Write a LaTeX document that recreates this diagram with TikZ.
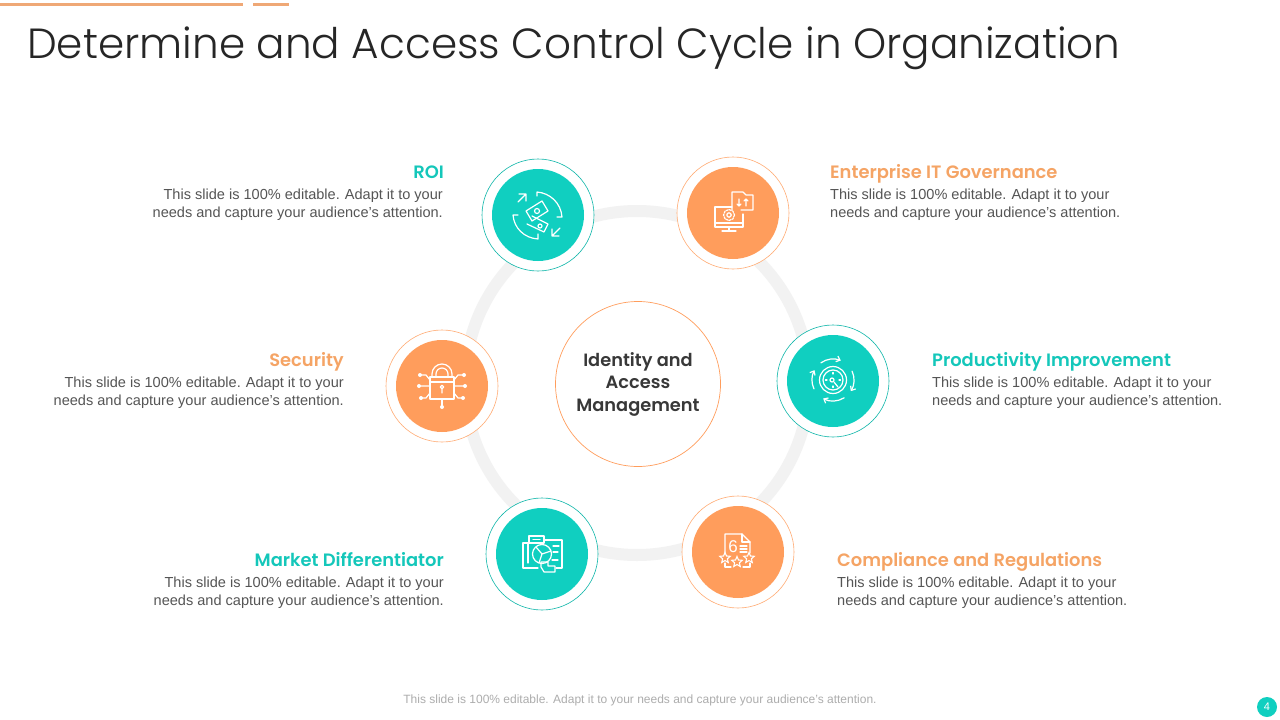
\documentclass[tikz,border=0pt]{standalone}
\usepackage{fontspec}
\setmainfont{Liberation Sans}
\newfontfamily\titlefont[UprightFont={* Light}]{Poppins}
\newfontfamily\headfont[UprightFont={* SemiBold}]{Poppins}
\usetikzlibrary{shapes.geometric,arrows.meta}
\definecolor{tealc}{HTML}{10CFC0}
\definecolor{orangec}{HTML}{FF9D5C}
\definecolor{headteal}{HTML}{14C7BA}
\definecolor{headorange}{HTML}{F5A465}
\definecolor{bar}{HTML}{EFA876}
\definecolor{ringc}{HTML}{F2F2F2}
\definecolor{bodyc}{HTML}{555555}
\newcommand{\bodytext}{This slide is 100\% editable.\ \hspace{1pt}Adapt it to your\\needs and capture your audience’s attention.}
\tikzset{
  x=1pt,y=-1pt,
  ringnode/.style={circle,draw=ringc,line width=12pt,minimum size=344pt,inner sep=0pt},
  outerteal/.style={circle,draw=tealc!88!black,fill=white,line width=.6pt,minimum size=112pt,inner sep=0pt},
  outerorange/.style={circle,draw=orangec!85,fill=white,line width=.6pt,minimum size=112pt,inner sep=0pt},
  discteal/.style={circle,fill=tealc,minimum size=92pt,inner sep=0pt},
  discorange/.style={circle,fill=orangec,minimum size=92pt,inner sep=0pt},
  hub/.style={circle,draw=orangec,fill=white,line width=.7pt,minimum size=165pt,inner sep=0pt,align=center,font=\headfont\fontsize{17.8}{22.5}\selectfont,text=black!78},
  headl/.style={anchor=base east,inner sep=0pt,font=\headfont\fontsize{17.9}{20}\selectfont},
  headr/.style={anchor=base west,inner sep=0pt,font=\headfont\fontsize{17.9}{20}\selectfont},
  bodyl/.style={anchor=east,inner sep=0pt,align=right,text=bodyc,font=\fontsize{14.55}{18}\selectfont},
  bodyr/.style={anchor=west,inner sep=0pt,align=left,text=bodyc,font=\fontsize{14.55}{18}\selectfont},
  ico/.style={draw=white,line width=1.2pt,line cap=round,line join=round},
  icostar/.style={star,star points=5,star point ratio=2.2,draw=white,fill=orangec,line width=1.1pt,minimum size=11pt,inner sep=0pt},
}
\begin{document}
\begin{tikzpicture}
\useasboundingbox (0,0) rectangle (1280,720);
\fill[white] (0,0) rectangle (1280,720);
\fill[bar] (0,3) rectangle (243,6);
\fill[bar] (253,3) rectangle (289,6);
\node[anchor=base west,inner sep=0pt,text=black!85,font=\titlefont\fontsize{42.15}{50}\selectfont] (title) at (27,58) {Determine and Access Control Cycle in Organization};

\node[ringnode] (ring) at (637,383) {};
\node[hub] (center) at (638,384) {Identity and\\Access\\Management};

\node[outerteal] (roiO) at (538,215) {};
\node[discteal] (roi) at (538,215) {};
\node[outerorange] (itO) at (733,213) {};
\node[discorange] (it) at (733,213) {};
\node[outerorange] (secO) at (442,386) {};
\node[discorange] (sec) at (442,386) {};
\node[outerteal] (prodO) at (833,381) {};
\node[discteal] (prod) at (833,381) {};
\node[outerteal] (mktO) at (542,554) {};
\node[discteal] (mkt) at (542,554) {};
\node[outerorange] (compO) at (738,552) {};
\node[discorange] (comp) at (738,552) {};

% ROI icon
\draw[ico] (537,196) -- (537,192) .. controls (550,193) and (561,203) .. (562,217) -- (557,217);
\draw[ico] (518,215) -- (513,215) .. controls (514,228) and (524,238) .. (538,239) -- (538,234);
\draw[ico] (518,202) -- (526,194) (519,194) -- (526,194) -- (526,201);
\draw[ico] (560,228) -- (552,236) (552,229) -- (552,236) -- (559,236);
\draw[ico] (526,211) -- (542,201) -- (548,211) -- (532,221) -- cycle;
\draw[ico] (532,216) -- (548,224) -- (544,232) -- (527,224);
\draw[ico] (537,211) circle (2.5);
\draw[ico] (540,226) circle (2);

% IT icon
\draw[ico] (732,207) -- (715,207) -- (715,227) -- (743,227) -- (743,214);
\draw[ico] (715,223) -- (743,223) (729,227) -- (729,231) (722,231) -- (736,231);
\draw[ico] (732,210) -- (732,192) -- (743,192) -- (746,195) -- (753,195) -- (753,210) -- (741,210);
\draw[ico] (739,199) -- (739,206) (737,204) -- (739,206) -- (741,204);
\draw[ico] (746,206) -- (746,199) (744,201) -- (746,199) -- (748,201);
\draw[ico] (729,215) circle (2.2);
\draw[ico,dash pattern=on 2pt off 1.2pt] (729,215) circle (5.5);

% Security icon
\draw[ico] (430,377) rectangle (454,399);
\draw[ico] (430,382) -- (454,382);
\draw[ico] (432,377) -- (432,374) arc (180:360:10) -- (452,377);
\draw[ico] (436,377) -- (436,374) arc (180:360:6) -- (448,377);
\draw[ico] (442,387) circle (1.8) (442,389) -- (442,393);
\draw[ico] (442,399) -- (442,406);
\draw[ico] (420,375) -- (426,375) -- (430,380) (420,386) -- (430,386) (421,398) -- (426,398) -- (430,393);
\draw[ico] (464,375) -- (458,375) -- (454,380) (464,386) -- (454,386) (463,398) -- (458,398) -- (454,393);
\fill[white] (420,375) circle (2) (419,386) circle (2) (421,398) circle (2)
             (464,375) circle (2) (465,386) circle (2) (463,398) circle (2) (442,407) circle (2);

% Productivity icon
\draw[ico] (833,380) circle (13.5);
\draw[ico] (833,380) circle (10);
\draw[ico] (832,380) circle (2);
\draw[ico] (834,382) -- (838,387);
\draw[ico] (833,372.5) -- (833,374) (825.5,380) -- (827,380) (840.5,380) -- (839,380) (833,387.5) -- (833,386);
\foreach \a/\b in {-125/-68,-25/32,58/118,155/208}{
  \draw[ico,-{Straight Barb[length=3.5pt,width=6pt]}] ([shift={(\a:21)}]833,380) arc (\a:\b:21);
}

% Market icon
\draw[ico] (529,543) -- (523,543) -- (523,568) -- (538,568);
\draw[ico] (528,543) -- (528,563) (555,540) -- (562,540) -- (562,568) -- (556,568);
\draw[ico] (529,536) rectangle (544,543);
\draw[ico] (533,539.5) -- (540,539.5);
\draw[ico] (544,540) -- (555,540);
\draw[ico] (542,554) circle (9.5);
\draw[ico] (542,554) -- (536,547) (542,554) -- (551,551) (542,554) -- (539,563);
\draw[ico] (541,567) -- (541,562) -- (548,562) -- (548,566) -- (555,566) -- (555,572) -- (544,572) -- cycle;
\draw[ico] (553,552) -- (558,552) (552,560) -- (558,560) (553,546) -- (559,546);

% Compliance icon
\draw[ico] (725,553) -- (725,534) -- (742,534) -- (750,542) -- (750,553);
\draw[ico] (742,534) -- (742,542) -- (750,542);
\draw[ico] (725,563) -- (725,567) -- (731,567) (743,567) -- (750,567) -- (750,563);
\draw[ico] (740,546) -- (747,546) (740,549) -- (747,549) (740,552) -- (747,552);
\node[inner sep=0pt,text=white,font=\fontsize{17}{17}\selectfont] (six) at (733,547) {6};
\node[icostar] (st1) at (725,558) {};
\node[icostar] (st2) at (737,562) {};
\node[icostar] (st3) at (749,558) {};

% Labels
\node[headl,text=headteal] (h1) at (444,178.5) {ROI};
\node[bodyl] (b1) at (443,205) {\bodytext};
\node[headr,text=headorange] (h2) at (830,178.5) {Enterprise IT Governance};
\node[bodyr] (b2) at (830,205) {\bodytext};
\node[headl,text=headorange] (h3) at (344,366.5) {Security};
\node[bodyl] (b3) at (344,393) {\bodytext};
\node[headr,text=headteal] (h4) at (932,366.5) {Productivity Improvement};
\node[bodyr] (b4) at (932,393) {\bodytext};
\node[headl,text=headteal] (h5) at (444,566.5) {Market Differentiator};
\node[bodyl] (b5) at (444,593) {\bodytext};
\node[headr,text=headorange] (h6) at (837,566.5) {Compliance and Regulations};
\node[bodyr] (b6) at (837,593) {\bodytext};

\node[inner sep=0pt,text=black!32,font=\fontsize{12}{14}\selectfont] (foot) at (640,700.5) {This slide is 100\% editable. Adapt it to your needs and capture your audience’s attention.};
\node[circle,fill=tealc,minimum size=20pt,inner sep=0pt,text=white,font=\fontsize{11}{11}\selectfont] (page) at (1267,707) {4};
\end{tikzpicture}
\end{document}
